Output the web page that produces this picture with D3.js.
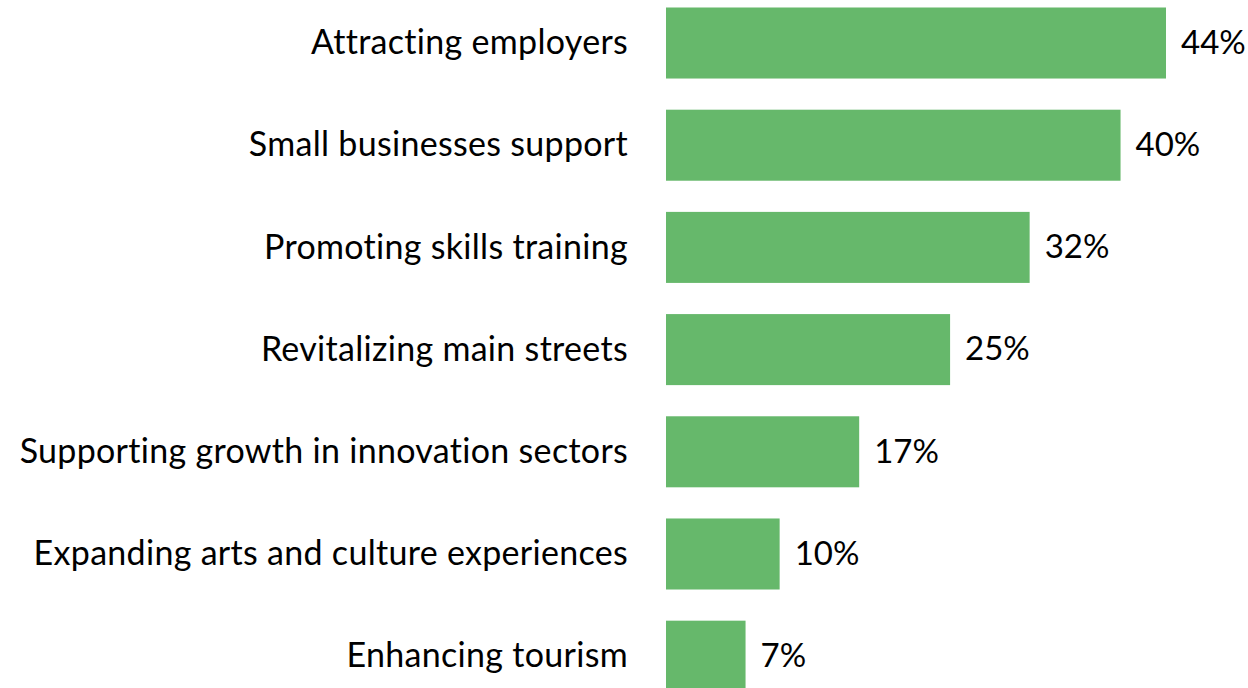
<!DOCTYPE html>
<html>
<head>
<meta charset="utf-8">
<script src="https://cdn.jsdelivr.net/npm/d3@7"></script>
<style>
  body { margin: 0; background: #fff; }
  text { font-family: Lato, "Open Sans", sans-serif; fill: #000; }
</style>
</head>
<body>
<svg id="chart" width="1248" height="688"></svg>
<script>
var categories = ["Attracting employers", "Small businesses support", "Promoting skills training",
    "Revitalizing main streets", "Supporting growth in innovation sectors",
    "Expanding arts and culture experiences", "Enhancing tourism"];
var values = [44, 40, 32, 25, 17, 10, 7];
var valueLabels = ["44%", "40%", "32%", "25%", "17%", "10%", "7%"];

var svg = d3.select("#chart");

var xScale = d3.scaleLinear()
    .domain([0, 44])
    .range([666, 1166]);

var yScale = d3.scaleBand()
    .domain(categories)
    .range([7.5, 7.5 + 6 * 102.2 + 71])
    .paddingInner(0.305)
    .paddingOuter(0);

var rows = svg.selectAll("g.row")
    .data(categories)
    .enter().append("g")
    .attr("class", "row");

rows.append("rect")
    .attr("x", xScale(0))
    .attr("y", function (d) { return yScale(d); })
    .attr("width", function (d, i) { return xScale(values[i]) - xScale(0); })
    .attr("height", yScale.bandwidth())
    .style("fill", "#66b86b");

// category names on the left
rows.append("text")
    .attr("x", 628)
    .attr("y", function (d) { return yScale(d) + yScale.bandwidth() / 2; })
    .attr("dy", "0.33em")
    .attr("text-anchor", "end")
    .style("font-size", "34px")
    .style("letter-spacing", "0.3px")
    .text(function (d) { return d; });

// value labels after the bars
rows.append("text")
    .attr("x", function (d, i) { return xScale(values[i]) + 15; })
    .attr("y", function (d) { return yScale(d) + yScale.bandwidth() / 2; })
    .attr("dy", "0.33em")
    .style("font-size", "33px")
    .text(function (d, i) { return valueLabels[i]; });
</script>
</body>
</html>
